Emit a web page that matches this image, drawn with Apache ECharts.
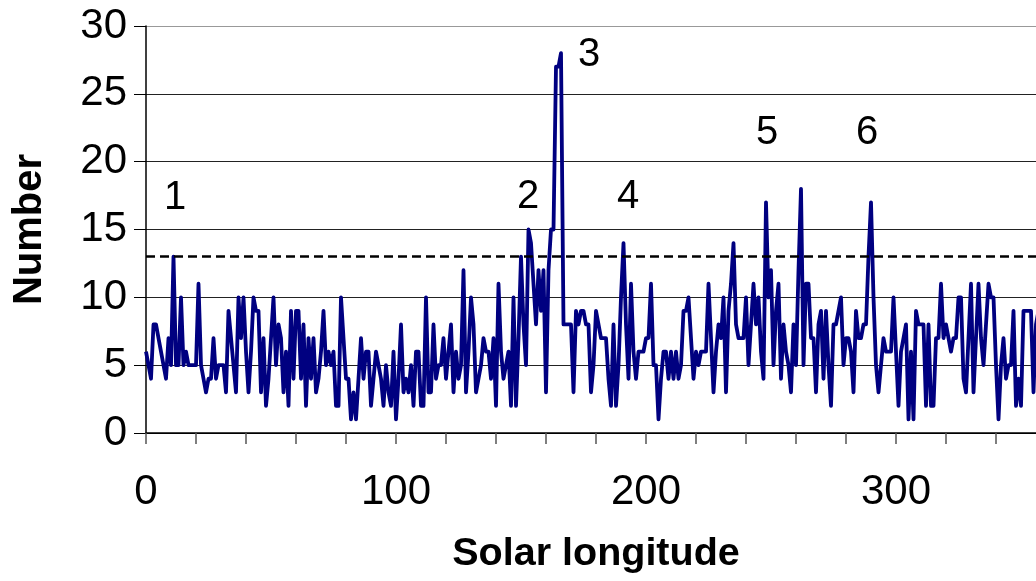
<!DOCTYPE html>
<html>
<head>
<meta charset="utf-8">
<title>Number vs solar longitude</title>
<script src="https://cdn.jsdelivr.net/npm/echarts@6/dist/echarts.min.js"></script>
<style>
    html, body { margin: 0; padding: 0; background: #fff; overflow: hidden; }
    #chart { width: 1060px; height: 581px; }
</style>
</head>
<body>
<div id="chart"></div>
<script>
// counts per 1 degree of solar longitude, starting at 0
const lonStart = 0;
const lonStep = 1;
const counts = [
    6, 5, 4, 8, 8, 7, 6, 5, 4, 7, 5, 13, 5, 5, 10, 5, 6, 5, 5, 5,
    5, 11, 5, 4, 3, 4, 4, 7, 4, 5, 5, 5, 3, 9, 7, 5, 3, 10, 7, 10,
    6, 3, 6, 10, 9, 9, 3, 7, 2, 4, 7, 10, 5, 8, 7, 3, 6, 2, 9, 4,
    9, 9, 4, 8, 2, 7, 4, 7, 3, 4, 6, 9, 5, 6, 5, 6, 2, 2, 10, 7,
    4, 4, 1, 3, 1, 4, 7, 4, 6, 6, 2, 4, 6, 5, 4, 2, 5, 3, 2, 6,
    1, 4, 8, 3, 4, 3, 5, 2, 6, 6, 2, 2, 10, 3, 3, 8, 4, 5, 5, 7,
    4, 6, 8, 3, 6, 4, 5, 12, 3, 6, 10, 8, 3, 4, 5, 7, 6, 6, 4, 7,
    2, 11, 6, 4, 5, 6, 2, 10, 2, 7, 13, 8, 5, 15, 14, 11, 8, 12, 9, 12,
    3, 12, 15, 15, 27, 27, 28, 8, 8, 8, 8, 3, 9, 8, 9, 9, 8, 8, 3, 5,
    9, 8, 7, 7, 7, 4, 2, 8, 2, 5, 10, 14, 8, 4, 11, 6, 4, 6, 6, 6,
    7, 7, 11, 5, 5, 1, 4, 6, 6, 4, 6, 4, 6, 4, 5, 9, 9, 10, 7, 4,
    6, 5, 6, 6, 6, 11, 7, 3, 6, 8, 7, 10, 3, 9, 11, 14, 8, 7, 7, 7,
    10, 5, 8, 11, 8, 10, 6, 4, 17, 10, 12, 5, 9, 11, 4, 8, 6, 5, 3, 8,
    5, 12, 18, 5, 11, 11, 7, 7, 3, 8, 9, 4, 9, 5, 2, 8, 8, 9, 10, 5,
    7, 7, 6, 3, 9, 7, 7, 8, 8, 13, 17, 10, 5, 3, 5, 7, 6, 6, 6, 10,
    6, 2, 6, 7, 8, 1, 6, 1, 9, 8, 8, 8, 2, 8, 2, 2, 7, 7, 11, 7,
    8, 7, 6, 7, 7, 10, 10, 4, 3, 7, 11, 3, 7, 11, 7, 5, 8, 11, 10, 10,
    5, 1, 5, 7, 4, 5, 5, 9, 2, 4, 2, 9, 9, 9, 9, 3, 8, 9, 6, 7
];
const threshold = 13;

// shower labels placed above the peaks
const peakNames = ['1', '2', '3', '4', '5', '6'];
const peakLon = [11.6, 152.8, 177.2, 192.8, 248.4, 288.4];
const peakY = [17.3, 17.4, 27.9, 17.4, 22.1, 22.1];

const xTickLabels = [0, 100, 200, 300];
const yTicks = [0, 5, 10, 15, 20, 25, 30];

const font = "'Liberation Sans', Arial, sans-serif";

const lineData = counts.map((c, i) => [lonStart + i * lonStep, c]);
const peakData = peakNames.map((n, i) => ({ name: n, value: [peakLon[i], peakY[i]] }));

const chart = echarts.init(document.getElementById('chart'));

const options = {
    animation: false,
    grid: {
        left: 146,
        right: 14,
        top: 26,
        bottom: 148
    },
    xAxis: {
        type: 'value',
        min: 0,
        max: 360,
        interval: 20,
        name: 'Solar longitude',
        nameLocation: 'middle',
        nameGap: 101,
        nameTextStyle: {
            fontFamily: font,
            fontSize: 39.5,
            fontWeight: 'bold',
            color: '#000'
        },
        axisLine: { lineStyle: { color: '#000', width: 1.5 } },
        axisTick: { show: true, length: 11, lineStyle: { color: '#555', width: 1.5 } },
        axisLabel: {
            margin: 38,
            fontFamily: font,
            fontSize: 42,
            color: '#000',
            formatter: function(v) {
                return xTickLabels.indexOf(v) >= 0 ? String(v) : '';
            }
        },
        splitLine: { show: false }
    },
    yAxis: {
        type: 'value',
        min: 0,
        max: 30,
        interval: 5,
        name: 'Number',
        nameLocation: 'middle',
        nameGap: 96,
        nameRotate: 90,
        nameTextStyle: {
            fontFamily: font,
            fontSize: 40,
            fontWeight: 'bold',
            color: '#000'
        },
        axisLine: { show: true, lineStyle: { color: '#000', width: 1.5 } },
        axisTick: { show: true, length: 12, lineStyle: { color: '#000', width: 1 } },
        axisLabel: {
            margin: 19,
            fontFamily: font,
            fontSize: 42,
            color: '#000',
            formatter: function(v) {
                return yTicks.indexOf(v) >= 0 ? String(v) : '';
            }
        },
        splitLine: {
            show: true,
            lineStyle: {
                color: ['#000', '#222', '#222', '#222', '#222', '#222', '#999'],
                width: 1
            }
        }
    },
    series: [
        {
            type: 'line',
            data: lineData,
            showSymbol: false,
            symbol: 'none',
            lineStyle: {
                color: '#000080',
                width: 3.8,
                join: 'round'
            },
            z: 3,
            markLine: {
                silent: true,
                symbol: 'none',
                label: { show: false },
                lineStyle: {
                    color: '#000',
                    type: [9, 5],
                    width: 2.5
                },
                data: [{ yAxis: threshold }]
            }
        },
        {
            type: 'scatter',
            data: peakData,
            symbolSize: 1,
            itemStyle: { color: 'rgba(0,0,0,0)', opacity: 1 },
            label: {
                show: true,
                position: 'inside',
                formatter: '{b}',
                fontFamily: font,
                fontSize: 40,
                color: '#000',
                opacity: 1
            },
            z: 4
        }
    ]
};

chart.setOption(options);
</script>
</body>
</html>
